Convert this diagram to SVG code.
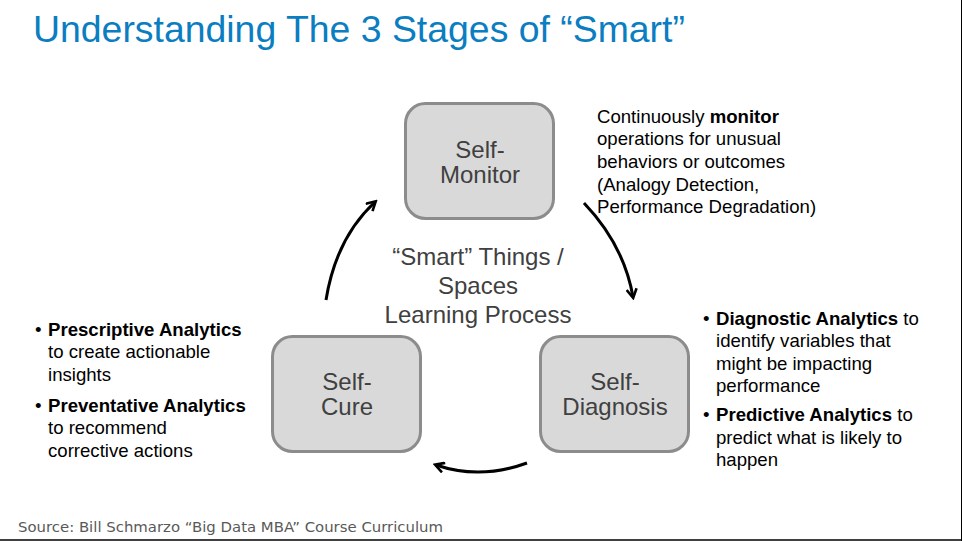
<svg xmlns="http://www.w3.org/2000/svg" width="962" height="541" viewBox="0 0 962 541">
<defs>
<marker id="ah" viewBox="0 0 12 12" refX="9" refY="6" markerWidth="12" markerHeight="12" markerUnits="userSpaceOnUse" orient="auto">
<path d="M1,1 L10,6 L1,11" fill="none" stroke="#000" stroke-width="2.6"/>
</marker>
<style>
.box{fill:#d9d9d9;stroke:#8c8c8c;stroke-width:3}
.bt{font-family:"Liberation Sans",Arial,sans-serif;font-size:24px;fill:#404040;text-anchor:middle}
.tx{font-family:"Liberation Sans",Arial,sans-serif;font-size:18.6px;fill:#000}
.b{font-weight:bold}
.arr{fill:none;stroke:#000;stroke-width:3;marker-end:url(#ah)}
</style>
</defs>
<rect width="962" height="541" fill="#fff"/>
<text x="33" y="42" font-family="'Liberation Sans',Arial,sans-serif" font-size="37.4" fill="#0b7dc1">Understanding The 3 Stages of “Smart”</text>
<g id="self-monitor">
<rect class="box" x="405.500" y="103.500" width="148" height="115" rx="20"/>
<text class="bt" x="480" y="158">Self-</text>
<text class="bt" x="480" y="183">Monitor</text>
</g>
<g id="self-cure">
<rect class="box" x="272.500" y="336.500" width="148" height="115" rx="20"/>
<text class="bt" x="347" y="390">Self-</text>
<text class="bt" x="347" y="415">Cure</text>
</g>
<g id="self-diagnosis">
<rect class="box" x="540.500" y="336.500" width="148" height="115" rx="20"/>
<text class="bt" x="615" y="390">Self-</text>
<text class="bt" x="615" y="415">Diagnosis</text>
</g>
<g id="center">
<text class="bt" x="478" y="265">“Smart” Things /</text>
<text class="bt" x="478" y="294">Spaces</text>
<text class="bt" x="478" y="323">Learning Process</text>
</g>
<g id="connectors">
<path class="arr" d="M326,300 Q336,238 375,202"/>
<path class="arr" d="M584,203 Q624,245 633,297"/>
<path class="arr" d="M527,463 Q480,480 436,465"/>
</g>
<g id="monitor-note">
<text class="tx" x="597" y="123">Continuously <tspan class="b">monitor</tspan></text>
<text class="tx" x="597" y="145">operations for unusual</text>
<text class="tx" x="597" y="168">behaviors or outcomes</text>
<text class="tx" x="597" y="191">(Analogy Detection,</text>
<text class="tx" x="597" y="213">Performance Degradation)</text>
</g>
<g id="diagnosis-note">
<text class="tx" x="703" y="325">•</text>
<text class="tx" x="716" y="325"><tspan class="b">Diagnostic Analytics</tspan> to</text>
<text class="tx" x="716" y="347">identify variables that</text>
<text class="tx" x="716" y="370">might be impacting</text>
<text class="tx" x="716" y="392">performance</text>
<text class="tx" x="703" y="421">•</text>
<text class="tx" x="716" y="421"><tspan class="b">Predictive Analytics</tspan> to</text>
<text class="tx" x="716" y="444">predict what is likely to</text>
<text class="tx" x="716" y="466">happen</text>
</g>
<g id="cure-note">
<text class="tx" x="35" y="336">•</text>
<text class="tx" x="48" y="336" font-weight="bold">Prescriptive Analytics</text>
<text class="tx" x="48" y="358">to create actionable</text>
<text class="tx" x="48" y="381">insights</text>
<text class="tx" x="35" y="412">•</text>
<text class="tx" x="48" y="412" font-weight="bold">Preventative Analytics</text>
<text class="tx" x="48" y="434">to recommend</text>
<text class="tx" x="48" y="457">corrective actions</text>
</g>
<text x="18" y="532" font-family="'DejaVu Sans',Verdana,sans-serif" font-size="14.9" fill="#595959">Source: Bill Schmarzo “Big Data MBA” Course Curriculum</text>
<line x1="0" y1="540" x2="962" y2="540" stroke="#000" stroke-width="1.5"/>
<line x1="961.500" y1="0" x2="961.500" y2="541" stroke="#000" stroke-width="1"/>
</svg>
